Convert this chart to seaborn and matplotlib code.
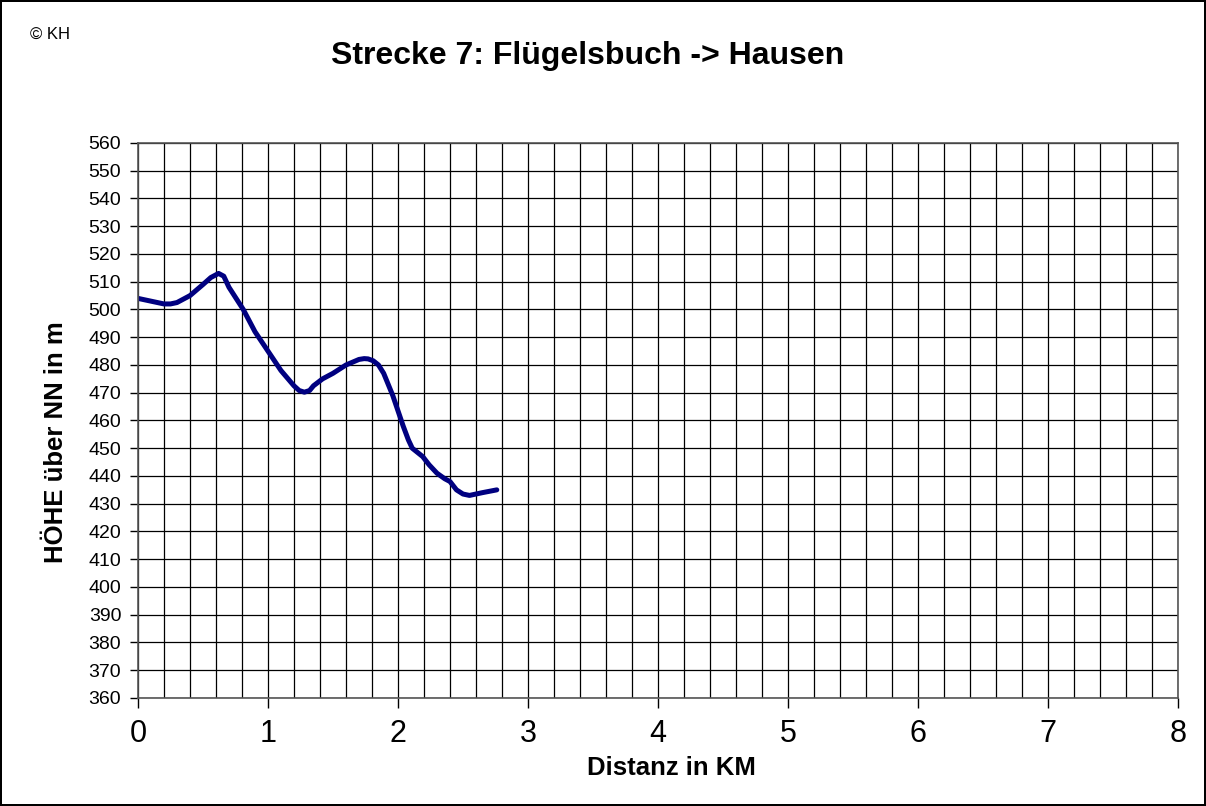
import numpy as np
import pandas as pd
import matplotlib
matplotlib.use("Agg")
import matplotlib.pyplot as plt
import seaborn as sns

# Höhenprofil Strecke 7
distanz_km = [0.0, 0.1, 0.2, 0.25, 0.3, 0.4, 0.5, 0.56, 0.62, 0.66, 0.7, 0.81,
              0.9, 1.0, 1.1, 1.2, 1.24, 1.28, 1.32, 1.35, 1.42, 1.5, 1.6, 1.7,
              1.74, 1.77, 1.81, 1.85, 1.89, 1.96, 2.04, 2.08, 2.11, 2.15, 2.19,
              2.24, 2.3, 2.36, 2.4, 2.45, 2.5, 2.55, 2.65, 2.76]
hoehe_m = [504, 503, 502, 502, 502.5, 505, 509, 511.5, 513, 512, 508, 500,
           492, 485, 478, 472.5, 470.8, 470.2, 470.8, 472.5, 475, 477, 480, 482,
           482.3, 482.2, 481.5, 480, 477, 469, 458, 453, 450, 448.5, 447,
           444, 441, 439, 438, 435, 433.5, 433, 434, 435]

x_ticks = [0, 1, 2, 3, 4, 5, 6, 7, 8]
y_ticks = list(range(360, 561, 10))

df = pd.DataFrame({"Distanz": distanz_km, "Hoehe": hoehe_m})

sns.set_theme(style="white")
plt.rcParams["font.family"] = ["Liberation Sans", "DejaVu Sans"]
plt.rcParams["text.color"] = "black"
plt.rcParams["axes.labelcolor"] = "black"

fig = plt.figure(figsize=(12.06, 8.06), dpi=100, linewidth=1.5, edgecolor="black")
ax = fig.add_axes([0.1144, 0.134, 0.8624, 0.6886])

sns.lineplot(data=df, x="Distanz", y="Hoehe", ax=ax, color="#000080",
             linewidth=3.6, solid_joinstyle="round", solid_capstyle="round")

ax.set_xlim(0, 8)
ax.set_ylim(360, 560)
ax.set_xticks(x_ticks)
ax.set_xticks(np.arange(0, 8.01, 0.2), minor=True)
ax.set_yticks(y_ticks)
ax.grid(True, which="both", axis="x", color="black", linewidth=0.9)
ax.grid(True, which="major", axis="y", color="black", linewidth=0.9)
ax.tick_params(axis="x", which="major", direction="out", length=7, width=1,
               labelsize=22, pad=8, bottom=True, colors="black")
ax.tick_params(axis="x", which="minor", length=0)
ax.tick_params(axis="y", direction="out", length=6, width=1, labelsize=14,
               pad=6, left=True, colors="black")
for s in ax.spines.values():
    s.set_color("#555555")
    s.set_linewidth(1.2)

ax.set_xlabel("Distanz in KM", fontsize=18.5, fontweight="bold", va="center")
ax.xaxis.set_label_coords(0.513, -0.126)
ax.set_ylabel("HÖHE über NN in m", fontsize=18.5, fontweight="bold", va="center")
ax.yaxis.set_label_coords(-0.079, 0.461)

fig.text(0.487, 0.930, "Strecke 7: Flügelsbuch -> Hausen", ha="center",
         va="center", fontsize=23, fontweight="bold")
fig.text(0.025, 0.957, "© KH", ha="left", va="center", fontsize=12)

fig.savefig("out.png", dpi=100)
